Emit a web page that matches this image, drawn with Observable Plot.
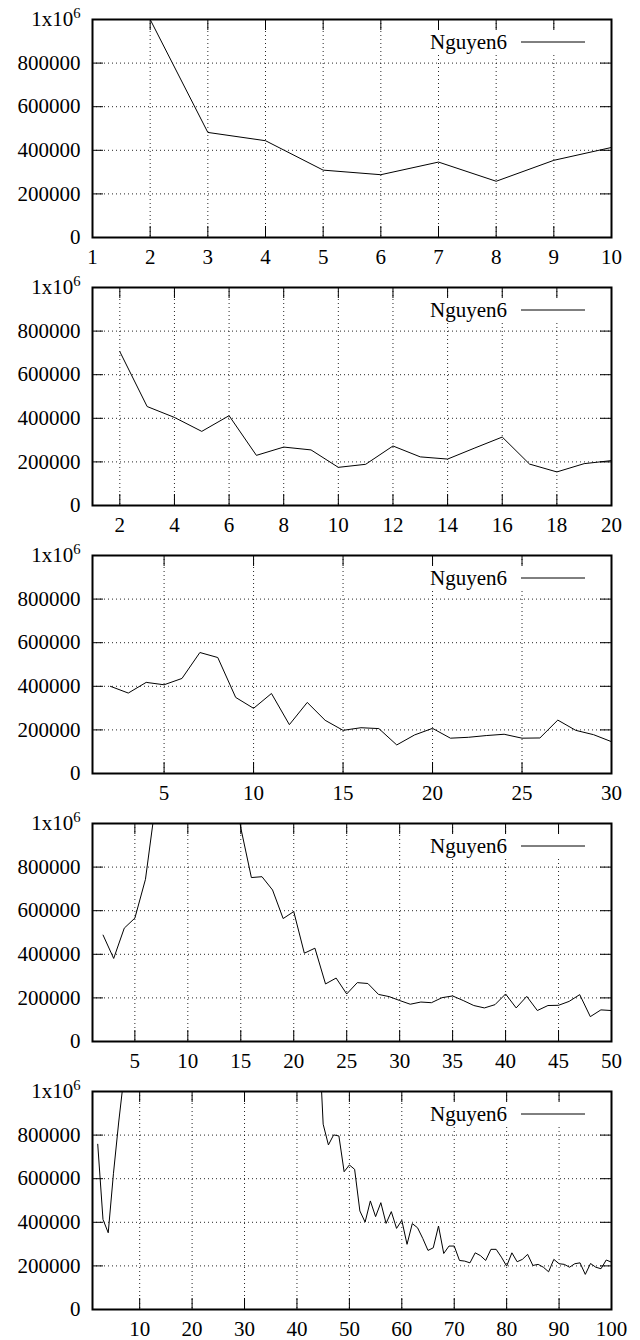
<!DOCTYPE html>
<html>
<head>
<meta charset="utf-8">
<script src="https://cdn.jsdelivr.net/npm/d3@7"></script>
<script src="https://cdn.jsdelivr.net/npm/@observablehq/plot@0.6"></script>
<style>
  html, body { margin: 0; padding: 0; background: #fff; }
  #charts svg { display: block; }
</style>
</head>
<body>
<div id="charts"></div>
<script>
// ---- data (x runs 2..N in each panel) ----
const seriesName = "Nguyen6";
const yTicks = [0, 200000, 400000, 600000, 800000, 1000000];

const xTicks1 = [1, 2, 3, 4, 5, 6, 7, 8, 9, 10];
const values1 = [1000000, 482000, 444000, 309000, 288000, 346000, 258000, 354000, 413000];

const xTicks2 = [2, 4, 6, 8, 10, 12, 14, 16, 18, 20];
const values2 = [706000, 454000, 404000, 340000, 412000, 230000, 268000, 255000, 175000, 189000,
                 273000, 223000, 213000, 264000, 314000, 190000, 154000, 192000, 206000];

const xTicks3 = [5, 10, 15, 20, 25, 30];
const values3 = [400000, 369000, 418000, 407000, 436000, 555000, 532000, 349000, 299000, 367000,
                 224000, 326000, 244000, 198000, 210000, 206000, 131000, 177000, 207000, 162000,
                 166000, 174000, 180000, 162000, 163000, 245000, 198000, 178000, 146000];

const xTicks4 = [5, 10, 15, 20, 25, 30, 35, 40, 45, 50];
const values4 = [488000, 381000, 520000, 566000, 744000, 1110000, 1600000, 2100000, 2400000, 2300000,
                 2000000, 1700000, 1300000, 980000, 752000, 756000, 695000, 564000, 596000, 405000,
                 428000, 264000, 291000, 218000, 270000, 266000, 216000, 206000, 188000, 171000,
                 181000, 178000, 201000, 209000, 188000, 165000, 154000, 169000, 218000, 154000,
                 207000, 142000, 165000, 166000, 184000, 215000, 114000, 145000, 142000];

const xTicks5 = [10, 20, 30, 40, 50, 60, 70, 80, 90, 100];
const values5 = [758000, 413000, 352000, 625000, 860000, 1070000, 1400000, 1800000, 2300000, 2700000,
                 3000000, 3200000, 3300000, 3400000, 3400000, 3300000, 3200000, 3100000, 3000000, 2900000,
                 2900000, 2800000, 2700000, 2600000, 2600000, 2500000, 2400000, 2400000, 2300000, 2200000,
                 2200000, 2100000, 2000000, 2000000, 1900000, 1800000, 1800000, 1700000, 1600000, 1600000,
                 1500000, 1450000, 1350000, 850000, 755000, 801000, 796000, 632000, 663000, 643000,
                 452000, 401000, 498000, 426000, 490000, 395000, 449000, 372000, 409000, 299000,
                 394000, 375000, 326000, 271000, 283000, 383000, 257000, 291000, 291000, 225000,
                 222000, 214000, 260000, 247000, 225000, 276000, 276000, 240000, 199000, 260000,
                 219000, 230000, 253000, 202000, 207000, 194000, 173000, 230000, 210000, 207000,
                 194000, 210000, 214000, 161000, 211000, 194000, 187000, 227000, 217000];

const panels = [
  {xMax: 10, xTicks: xTicks1, values: values1},
  {xMax: 20, xTicks: xTicks2, values: values2},
  {xMax: 30, xTicks: xTicks3, values: values3},
  {xMax: 50, xTicks: xTicks4, values: values4},
  {xMax: 100, xTicks: xTicks5, values: values5}
];

// ---- layout ----
const FONT = "'Liberation Serif', 'Times New Roman', Times, serif";
const W = 640, H = 268, mL = 92, mR = 29, mT = 19, mB = 31;
const pw = W - mL - mR, ph = H - mT - mB;
const tickLen = 11;
const gridStyle = {stroke: "#000", strokeOpacity: 0.85, strokeWidth: 1, strokeDasharray: "1,3"};

function legendMark(name) {
  return (index, scales, values, dims) => {
    const g = d3.create("svg:g");
    const right = dims.width - dims.marginRight;
    const top = dims.marginTop;
    g.append("rect")
      .attr("x", right - 193).attr("y", top + 12)
      .attr("width", 182).attr("height", 21)
      .attr("fill", "#fff");
    g.append("text")
      .attr("x", right - 104).attr("y", top + 23)
      .attr("dy", "0.32em")
      .attr("text-anchor", "end")
      .attr("fill", "#000")
      .text(name);
    g.append("line")
      .attr("x1", right - 90).attr("x2", right - 26)
      .attr("y1", top + 23).attr("y2", top + 23)
      .attr("stroke", "#000").attr("stroke-width", 1);
    return g.node();
  };
}

const yFormat = d => d === 1000000 ? "1x10^6" : String(d);

const container = document.getElementById("charts");
for (const p of panels) {
  const data = p.values.map((v, i) => ({x: i + 2, y: v}));
  const chart = Plot.plot({
    width: W, height: H,
    marginLeft: mL, marginRight: mR, marginTop: mT, marginBottom: mB,
    style: {fontFamily: FONT, fontSize: "21px", color: "#000", background: "#fff"},
    x: {domain: [1, p.xMax], label: null},
    y: {domain: [0, 1000000], label: null},
    marks: [
      Plot.gridX(p.xTicks, gridStyle),
      Plot.gridY(yTicks, gridStyle),
      legendMark(seriesName),
      Plot.tickX(p.xTicks, {x: d => d, insetTop: ph - tickLen, stroke: "#000"}),
      Plot.tickX(p.xTicks, {x: d => d, insetBottom: ph - tickLen, stroke: "#000"}),
      Plot.tickY(yTicks, {y: d => d, insetRight: pw - tickLen, stroke: "#000"}),
      Plot.tickY(yTicks, {y: d => d, insetLeft: pw - tickLen, stroke: "#000"}),
      Plot.line(data, {x: "x", y: "y", stroke: "#000", strokeWidth: 1, clip: true}),
      Plot.axisX(p.xTicks, {tickSize: 0, tickPadding: 12, fill: "#000"}),
      Plot.axisY(yTicks, {tickSize: 0, tickPadding: 12, tickFormat: yFormat, fill: "#000"}),
      Plot.frame({stroke: "#000", strokeWidth: 2})
    ]
  });
  chart.setAttribute("font-family", FONT);
  chart.setAttribute("font-size", "21");
  for (const t of chart.querySelectorAll("text")) {
    t.setAttribute("font-family", FONT);
    t.style.fontFamily = FONT;
    if (t.textContent === "1x10^6") {
      t.textContent = "1x10";
      const s = document.createElementNS("http://www.w3.org/2000/svg", "tspan");
      s.setAttribute("dy", "-0.55em");
      s.setAttribute("font-size", "0.7em");
      s.textContent = "6";
      t.appendChild(s);
    }
  }
  container.appendChild(chart);
}
</script>
</body>
</html>
